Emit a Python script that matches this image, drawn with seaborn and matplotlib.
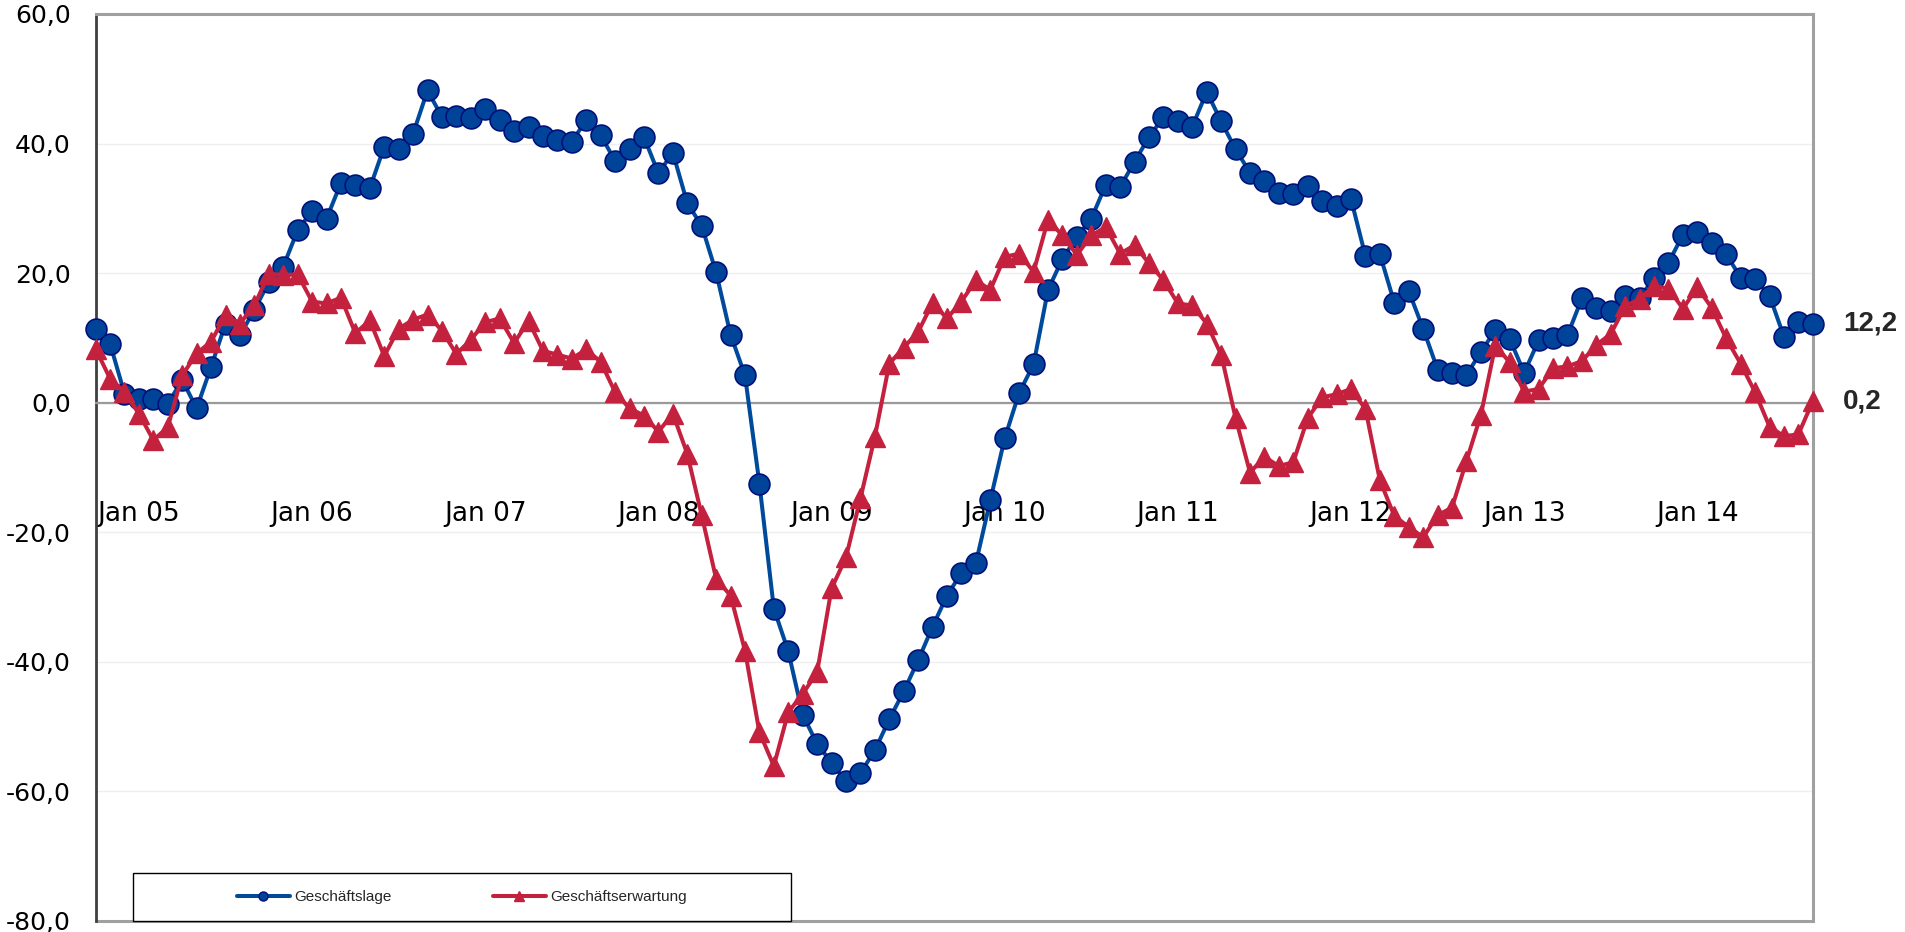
import numpy as np
import pandas as pd
import matplotlib
matplotlib.use("Agg")
import matplotlib.pyplot as plt
import seaborn as sns
from matplotlib.lines import Line2D
from matplotlib.patches import Rectangle
from matplotlib.ticker import FuncFormatter

# monthly survey balances, Oct 2004 - Sep 2014
months = pd.date_range("2004-10-01", periods=120, freq="MS")

lage = [11.3, 9.1, 1.4, 0.6, 0.6, -0.2, 3.5, -0.9, 5.5, 12.2, 10.4, 14.3,
        18.6, 21.0, 26.6, 29.6, 28.4, 33.9, 33.6, 33.1, 39.5, 39.2, 41.5, 48.2,
        44.1, 44.2, 43.9, 45.4, 43.6, 42.0, 42.5, 41.2, 40.5, 40.3, 43.6, 41.3,
        37.3, 39.1, 41.0, 35.4, 38.6, 30.8, 27.3, 20.1, 10.5, 4.2, -12.5, -31.8,
        -38.4, -48.2, -52.7, -55.6, -58.5, -57.2, -53.7, -48.9, -44.6, -39.8, -34.6, -29.8,
        -26.3, -24.8, -15.1, -5.5, 1.5, 5.9, 17.4, 22.2, 25.6, 28.4, 33.6, 33.3,
        37.2, 41.0, 44.1, 43.4, 42.6, 48.0, 43.4, 39.1, 35.5, 34.2, 32.4, 32.2,
        33.5, 31.2, 30.4, 31.4, 22.6, 22.9, 15.4, 17.2, 11.4, 5.1, 4.5, 4.3,
        7.8, 11.2, 9.8, 4.6, 9.6, 10.0, 10.4, 16.1, 14.6, 14.2, 16.5, 16.2,
        19.2, 21.6, 25.9, 26.3, 24.6, 22.9, 19.3, 19.1, 16.5, 10.2, 12.4, 12.2]

erwartung = [8.3, 3.7, 1.6, -1.7, -5.8, -3.8, 4.2, 7.6, 9.4, 13.5, 12.2, 15.0,
             19.9, 19.7, 19.8, 15.6, 15.3, 16.2, 10.7, 12.7, 7.2, 11.4, 12.8, 13.6,
             11.1, 7.5, 9.7, 12.4, 13.0, 9.2, 12.6, 8.0, 7.4, 6.8, 8.2, 6.3,
             1.6, -0.9, -2.0, -4.5, -1.7, -7.9, -17.4, -27.2, -29.8, -38.3, -50.9, -56.1,
             -47.8, -45.0, -41.6, -28.7, -23.9, -14.8, -5.3, 6.0, 8.5, 10.9, 15.4, 13.0,
             15.6, 18.9, 17.4, 22.5, 23.0, 20.2, 28.2, 25.8, 22.8, 25.8, 27.1, 23.0,
             24.3, 21.5, 18.9, 15.3, 15.0, 12.2, 7.4, -2.4, -10.8, -8.4, -9.8, -9.2,
             -2.4, 0.8, 1.3, 2.1, -1.0, -12.0, -17.5, -19.2, -20.8, -17.4, -16.2, -9.0,
             -1.9, 8.8, 6.2, 1.7, 2.1, 5.3, 5.6, 6.4, 8.9, 10.6, 14.9, 16.0,
             18.0, 17.6, 14.5, 17.8, 14.6, 9.9, 6.0, 1.6, -3.7, -5.2, -4.9, 0.2]

series_names = ["Geschäftslage", "Geschäftserwartung"]
y_ticks = [-80, -60, -40, -20, 0, 20, 40, 60]

df = pd.DataFrame({"pos": np.arange(len(months)),
                   series_names[0]: lage,
                   series_names[1]: erwartung})
jan_pos = df["pos"][months.month == 1].tolist()
jan_labels = [m.strftime("Jan %y") for m in months[months.month == 1]]
tick_pos = df["pos"][::12].tolist()

BLUE = "#004A9C"
BLUE_FILL = "#00449A"
NAVY = "#00107A"
RED = "#C4213F"

sns.set_style("white")
plt.rcParams['font.family'] = ['DejaVu Sans']

fig = plt.figure(figsize=(19.05, 9.32), dpi=100)
ax = fig.add_axes([0.0502, 0.0121, 0.9014, 0.9729])

sns.lineplot(data=df, x="pos", y=series_names[0], ax=ax, color=BLUE, lw=2.9,
             marker="o", markersize=15, markerfacecolor=BLUE_FILL,
             markeredgecolor=NAVY, markeredgewidth=1.2, clip_on=False,
             legend=False, zorder=3)
sns.lineplot(data=df, x="pos", y=series_names[1], ax=ax, color=RED, lw=2.9,
             marker="^", markersize=14, markerfacecolor=RED,
             markeredgecolor=RED, markeredgewidth=1.0, clip_on=False,
             legend=False, zorder=4)

ax.set_xlim(df["pos"].iloc[0], df["pos"].iloc[-1])
ax.set_ylim(-80, 60)
ax.set_xlabel("")
ax.set_ylabel("")

# frame
ax.spines["bottom"].set_position(("data", 0))
ax.spines["bottom"].set_color("#9a9a9a")
ax.spines["bottom"].set_linewidth(1.6)
for s in ["top", "right"]:
    ax.spines[s].set_color("#a0a0a0")
    ax.spines[s].set_linewidth(2.2)
ax.spines["left"].set_color("#404040")
ax.spines["left"].set_linewidth(2.0)
ax.axhline(-80, color="#a0a0a0", lw=2.2, clip_on=False, zorder=2)

ax.yaxis.grid(True, color="#efefef", lw=1.0)
ax.set_axisbelow(True)

ax.set_yticks(y_ticks)
ax.yaxis.set_major_formatter(FuncFormatter(lambda v, p: f"{v:.1f}".replace(".", ",")))
ax.tick_params(axis="y", direction="out", length=6, width=1.5, color="#404040",
               labelsize=18, pad=12, labelcolor="black")

ax.set_xticks(tick_pos)
ax.set_xticklabels([])
ax.set_xticks(jan_pos, minor=True)
ax.set_xticklabels(jan_labels, minor=True)
ax.tick_params(axis="x", which="major", direction="out", length=6, width=1.5,
               color="#9a9a9a")
ax.tick_params(axis="x", which="minor", length=0, pad=71, labelsize=19,
               labelcolor="black")

# last values
for name in series_names:
    last = df[name].iloc[-1]
    ax.annotate(f"{last:.1f}".replace(".", ","), xy=(df["pos"].iloc[-1], last),
                xytext=(22, 0), textcoords="offset points", ha="left", va="center",
                fontsize=20, fontweight="bold", family="Liberation Sans")

# legend in a boxed strip at the bottom
fig.add_artist(Rectangle((133 / 1905, 11.3 / 932), 658 / 1905, 48 / 932,
                         transform=fig.transFigure, facecolor="white",
                         edgecolor="black", lw=1.0, zorder=4))
handles = [Line2D([], [], color=BLUE, lw=2.9, marker="o", markersize=6.5,
                  markerfacecolor=BLUE_FILL, markeredgecolor=NAVY, markeredgewidth=1.0),
           Line2D([], [], color=RED, lw=2.9, marker="^", markersize=6.5,
                  markerfacecolor=RED, markeredgecolor=RED)]
leg = fig.legend(handles, series_names, loc="center",
                 bbox_to_anchor=(462 / 1905, 1 - 897 / 932), ncol=2, frameon=False,
                 handlelength=3.46, handletextpad=0.33, columnspacing=6.6,
                 prop={"family": "Liberation Sans", "size": 11})
leg.set_zorder(6)

fig.savefig("out.png", dpi=100)
